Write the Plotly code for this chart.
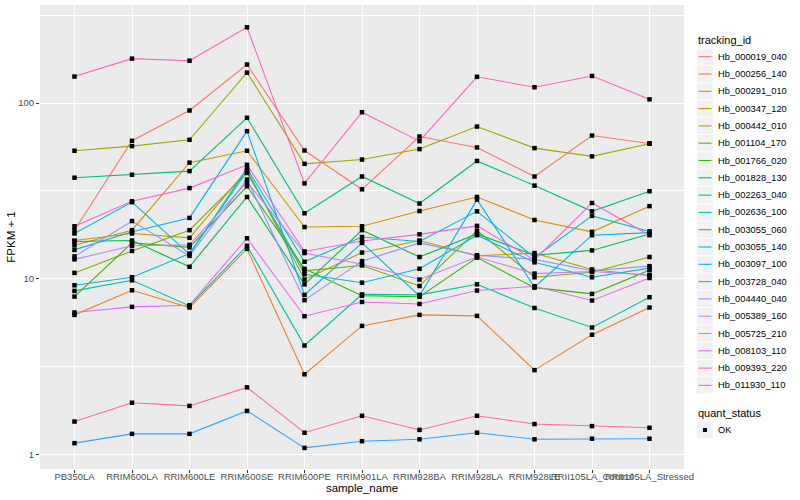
import plotly.graph_objects as go

samples = ["PB350LA", "RRIM600LA", "RRIM600LE", "RRIM600SE", "RRIM600PE", "RRIM901LA",
           "RRIM928BA", "RRIM928LA", "RRIM928LE", "RRII105LA_Control", "RRII105LA_Stressed"]

tracking_ids = ["Hb_000019_040", "Hb_000256_140", "Hb_000291_010", "Hb_000347_120", "Hb_000442_010",
                "Hb_001104_170", "Hb_001766_020", "Hb_001828_130", "Hb_002263_040", "Hb_002636_100",
                "Hb_003055_060", "Hb_003055_140", "Hb_003097_100", "Hb_003728_040", "Hb_004440_040",
                "Hb_005389_160", "Hb_005725_210", "Hb_008103_110", "Hb_009393_220", "Hb_011930_110"]

colors = ["#F8766D", "#EA8331", "#D89000", "#C09B00", "#A3A500", "#7CAE00", "#39B600", "#00BB4E",
          "#00BF7D", "#00C1A3", "#00BFC4", "#00BAE0", "#00B0F6", "#35A2FF", "#9590FF", "#C77CFF",
          "#E76BF3", "#FA62DB", "#FF62BC", "#FF6C91"]

quant_status = ["OK"]

# FPKM + 1 per sample (order of `samples`)
hb_000019_040 = [18.9, 61.0, 90.7, 165.7, 53.7, 32.3, 64.5, 55.9, 38.2, 65.3, 58.9]
hb_000256_140 = [6.23, 8.6, 6.86, 14.8, 2.86, 5.39, 6.23, 6.15, 3.02, 4.80, 6.86]
hb_000291_010 = [15.5, 18.9, 45.8, 53.5, 19.7, 19.9, 24.3, 29.2, 21.6, 18.5, 25.9]
hb_000347_120 = [16.5, 18.1, 17.1, 41.6, 9.9, 14.1, 16.5, 13.5, 14.0, 11.3, 10.4]
hb_000442_010 = [53.5, 56.9, 61.8, 149.0, 45.1, 47.7, 54.7, 73.5, 55.4, 49.7, 58.7]
hb_001104_170 = [10.8, 14.4, 18.9, 40.0, 11.1, 11.9, 9.1, 18.8, 10.2, 10.9, 13.3]
hb_001766_020 = [7.92, 16.0, 15.1, 33.6, 11.4, 8.0, 7.9, 13.2, 8.9, 8.2, 11.2]
hb_001828_130 = [16.3, 16.5, 11.7, 29.2, 9.3, 18.9, 13.3, 18.0, 13.6, 14.5, 18.0]
hb_002263_040 = [37.6, 39.1, 41.0, 82.4, 23.6, 38.2, 26.8, 46.8, 33.9, 24.2, 31.5]
hb_002636_100 = [8.53, 9.8, 7.01, 15.4, 4.17, 8.15, 8.1, 9.3, 6.82, 5.28, 7.85]
hb_003055_060 = [18.1, 27.3, 13.8, 42.5, 12.5, 17.3, 16.3, 24.2, 13.2, 22.8, 18.6]
hb_003055_140 = [9.18, 10.2, 13.9, 40.8, 10.6, 9.5, 11.4, 17.7, 12.4, 10.2, 11.5]
hb_003097_100 = [14.6, 18.5, 22.2, 69.2, 8.09, 16.0, 8.0, 28.2, 8.97, 17.7, 18.3]
hb_003728_040 = [1.16, 1.31, 1.31, 1.77, 1.09, 1.19, 1.22, 1.33, 1.22, 1.23, 1.23]
hb_004440_040 = [13.4, 21.3, 13.5, 36.7, 7.55, 12.6, 16.0, 13.6, 12.9, 11.1, 11.8]
hb_005389_160 = [12.9, 15.4, 15.6, 35.5, 14.0, 12.1, 9.9, 13.3, 10.7, 11.0, 10.5]
hb_005725_210 = [6.43, 6.92, 7.07, 17.0, 6.12, 7.38, 7.19, 8.57, 9.06, 7.52, 10.1]
hb_008103_110 = [19.9, 27.6, 32.8, 44.5, 14.3, 16.4, 17.9, 20.0, 12.8, 27.0, 17.7]
hb_009393_220 = [141.5, 179.0, 174.0, 270.0, 34.9, 88.7, 60.7, 141.0, 123.0, 142.6, 105.0]
hb_011930_110 = [1.54, 1.97, 1.89, 2.41, 1.33, 1.66, 1.38, 1.66, 1.49, 1.45, 1.42]

series = [hb_000019_040, hb_000256_140, hb_000291_010, hb_000347_120, hb_000442_010,
          hb_001104_170, hb_001766_020, hb_001828_130, hb_002263_040, hb_002636_100,
          hb_003055_060, hb_003055_140, hb_003097_100, hb_003728_040, hb_004440_040,
          hb_005389_160, hb_005725_210, hb_008103_110, hb_009393_220, hb_011930_110]

y_ticks = [1, 10, 100]
y_minor = [3.1623, 31.623, 316.23]

W, H = 800, 500
ML, MR, MT, MB = 40, 116, 5, 31
PW, PH = W - ML - MR, H - MT - MB
font = "Liberation Sans, Arial, sans-serif"


def px_x(px):
    return (px - ML) / PW


def px_y(py):
    return (H - MB - py) / PH


fig = go.Figure()
for name, vals, col in zip(tracking_ids, series, colors):
    fig.add_trace(go.Scatter(x=samples, y=vals, mode="lines", name=name, showlegend=False,
                             line=dict(color=col, width=1.1)))
for name, vals in zip(tracking_ids, series):
    fig.add_trace(go.Scatter(x=samples, y=vals, mode="markers", showlegend=False, name=name,
                             marker=dict(color="black", symbol="square", size=4.5)))

# manual ggplot-style legends
shapes, annots = [], []
key_l, key_r, key_h = 697, 713, 17.3
annots.append(dict(text="tracking_id", x=px_x(696), y=px_y(40.5), xref="paper", yref="paper",
                   xanchor="left", yanchor="middle", showarrow=False,
                   font=dict(family=font, size=11, color="black")))
for i, (name, col) in enumerate(zip(tracking_ids, colors)):
    cy = 56.7 + i * key_h
    shapes.append(dict(type="rect", xref="paper", yref="paper", x0=px_x(key_l), x1=px_x(key_r),
                       y0=px_y(cy - key_h / 2 + 0.5), y1=px_y(cy + key_h / 2 - 0.5),
                       fillcolor="#F2F2F2", line=dict(width=0), layer="above"))
    shapes.append(dict(type="line", xref="paper", yref="paper", x0=px_x(key_l + 1.5), x1=px_x(key_r - 1.5),
                       y0=px_y(cy), y1=px_y(cy), line=dict(color=col, width=1.1), layer="above"))
    annots.append(dict(text=name, x=px_x(716), y=px_y(cy), xref="paper", yref="paper",
                       xanchor="left", yanchor="middle", showarrow=False,
                       font=dict(family=font, size=9.3, color="black")))

annots.append(dict(text="quant_status", x=px_x(696), y=px_y(412.5), xref="paper", yref="paper",
                   xanchor="left", yanchor="middle", showarrow=False,
                   font=dict(family=font, size=11, color="black")))
for j, status in enumerate(quant_status):
    cy = 430 + j * key_h
    shapes.append(dict(type="rect", xref="paper", yref="paper", x0=px_x(key_l), x1=px_x(key_r),
                       y0=px_y(cy - key_h / 2 + 0.5), y1=px_y(cy + key_h / 2 - 0.5),
                       fillcolor="#F2F2F2", line=dict(width=0), layer="above"))
    shapes.append(dict(type="rect", xref="paper", yref="paper", x0=px_x(703), x1=px_x(707),
                       y0=px_y(cy - 2), y1=px_y(cy + 2), fillcolor="black", line=dict(width=0),
                       layer="above"))
    annots.append(dict(text=status, x=px_x(716), y=px_y(cy), xref="paper", yref="paper",
                       xanchor="left", yanchor="middle", showarrow=False,
                       font=dict(family=font, size=9.3, color="black")))

fig.update_layout(
    width=W, height=H,
    margin=dict(l=ML, r=MR, t=MT, b=MB),
    paper_bgcolor="white", plot_bgcolor="#EBEBEB",
    font=dict(family=font, size=10, color="black"),
    showlegend=False,
    shapes=shapes, annotations=annots,
    xaxis=dict(
        type="category", range=[-0.6, 10.6], showgrid=True, gridcolor="white", gridwidth=1.4,
        zeroline=False, showline=False, ticks="outside", ticklen=3, tickcolor="#333333",
        tickwidth=1, tickangle=0, tickfont=dict(family=font, size=9.5, color="#4D4D4D"),
        ticklabelstandoff=-4,
        title=dict(text="sample_name", font=dict(family=font, size=11.5, color="black"), standoff=2),
        automargin=False,
    ),
    yaxis=dict(
        type="log", range=[-0.0826, 2.558], tickvals=y_ticks, ticktext=[str(v) for v in y_ticks],
        showgrid=True, gridcolor="white", gridwidth=1.4, zeroline=False, showline=False,
        ticks="outside", ticklen=3, tickcolor="#333333", tickwidth=1,
        tickfont=dict(family=font, size=9.5, color="#4D4D4D"),
        minor=dict(tickvals=y_minor, showgrid=True, gridcolor="white", gridwidth=0.7, ticks=""),
        title=dict(text="FPKM + 1", font=dict(family=font, size=11.5, color="black"), standoff=0),
        automargin=False,
    ),
)

fig.write_html("out.html", config={"displayModeBar": False},
               post_script="document.body.style.margin='0';document.body.style.padding='0';")
